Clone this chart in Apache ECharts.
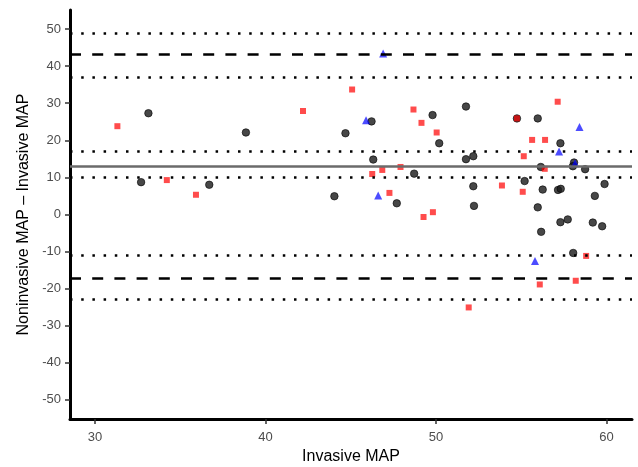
<!DOCTYPE html>
<html>
<head>
<meta charset="utf-8">
<script src="https://cdn.jsdelivr.net/npm/echarts@6/dist/echarts.min.js"></script>
<style>
html,body{margin:0;padding:0;background:#fff;}
#chart{width:638px;height:467px;}
</style>
</head>
<body>
<div id="chart"></div>
<script>
// ---- data ----
var circleX = [33.13,38.85,32.70,36.70,46.22,44.69,49.80,50.19,46.32,48.72,44.04,47.70,51.76,54.75,55.97,57.30,51.76,52.19,56.15,58.10,58.03,58.75,52.19,55.20,56.26,57.16,57.32,59.89,59.32,52.23,55.97,57.30,57.73,59.20,59.75,56.17,58.05];
var circleY = [27.3,22.1,8.7,8.0,25.1,21.9,26.8,19.2,14.8,11.0,4.9,3.0,29.1,25.9,25.9,19.2,14.9,15.7,12.8,14.0,13.0,12.2,7.6,9.0,6.7,6.6,6.9,8.2,5.0,2.3,1.9,-2.1,-1.35,-2.2,-3.2,-4.7,-10.4];
var squareX = [31.31,34.21,35.92,45.08,42.20,48.68,49.15,50.04,46.85,47.92,46.26,47.27,49.27,49.82,54.75,57.14,55.64,56.40,55.15,56.38,53.87,55.09,58.81,56.09,58.20,51.92];
var squareY = [23.8,9.26,5.3,33.7,27.9,28.3,24.7,22.1,12.0,12.8,10.9,5.8,-0.7,0.6,25.9,30.4,20.1,20.1,15.7,12.3,7.8,6.1,-11.2,-18.9,-17.9,-25.1];
var triangleX = [46.9,45.90,46.61,58.42,57.22,58.16,55.81];
var triangleY = [43.4,25.4,5.1,23.6,17.0,13.8,-12.6];
var meanDiff = 13.1;
var loaLines = [43.2,-17.1];
var ciLines = [49.0,37.05,17.05,10.0,-11.0,-23.0];
var xTicks = [30,40,50,60];
var yTicks = [-50,-40,-30,-20,-10,0,10,20,30,40,50];

function pairs(xs, ys){ return xs.map(function(x,i){ return [x, ys[i]]; }); }

var font = 'Liberation Sans, Arial, sans-serif';
var chart = echarts.init(document.getElementById('chart'), null, {renderer:'canvas'});

var markData = [];
ciLines.forEach(function(v){ markData.push({yAxis:v, lineStyle:{color:'#000', width:2.5, type:[2.5,8.7], cap:'butt'}}); });
loaLines.forEach(function(v){ markData.push({yAxis:v, lineStyle:{color:'#000', width:2.5, type:[11,11.2], cap:'butt'}}); });
markData.push({yAxis:meanDiff, lineStyle:{color:'#6b6b6b', width:2.5, type:'solid'}});

chart.setOption({
  animation:false,
  backgroundColor:'#fff',
  grid:{left:70, right:6, top:10, bottom:48, containLabel:false, outerBoundsMode:'none'},
  xAxis:{
    type:'value', min:28.53, max:61.5,
    name:'Invasive MAP', nameLocation:'middle', nameGap:30,
    nameTextStyle:{fontFamily:font, fontSize:16, color:'#000'},
    axisLine:{show:true, onZero:false, lineStyle:{color:'#000', width:3}},
    axisTick:{show:true, customValues:xTicks, length:5, lineStyle:{color:'#333', width:1.5}},
    axisLabel:{customValues:xTicks, fontFamily:font, fontSize:13, color:'#4d4d4d', margin:12},
    splitLine:{show:false}
  },
  yAxis:{
    type:'value', min:-55.2, max:55.15,
    name:'Noninvasive MAP \u2013 Invasive MAP', nameLocation:'middle', nameGap:38,
    nameTextStyle:{fontFamily:font, fontSize:16, color:'#000'},
    axisLine:{show:true, onZero:false, lineStyle:{color:'#000', width:3}},
    axisTick:{show:true, customValues:yTicks, length:5, lineStyle:{color:'#333', width:1.5}},
    axisLabel:{customValues:yTicks, fontFamily:font, fontSize:13, color:'#4d4d4d', margin:9},
    splitLine:{show:false}
  },
  series:[
    {type:'scatter', data:[], z:1, silent:true,
      markLine:{silent:true, symbol:'none', label:{show:false}, animation:false, data:markData}},
    {type:'scatter', name:'circle', z:2, symbol:'circle', symbolSize:7.5,
      itemStyle:{color:'rgba(25,25,25,0.8)', borderColor:'rgba(0,0,0,0.6)', borderWidth:1, opacity:1},
      data:pairs(circleX, circleY)},
    {type:'scatter', name:'square', z:3, symbol:'rect', symbolSize:6,
      itemStyle:{color:'rgba(255,0,0,0.7)', opacity:1},
      data:pairs(squareX, squareY)},
    {type:'scatter', name:'triangle', z:4, symbol:'triangle', symbolSize:8,
      itemStyle:{color:'rgba(0,0,255,0.7)', opacity:1},
      data:pairs(triangleX, triangleY)}
  ]
});
</script>
</body>
</html>
